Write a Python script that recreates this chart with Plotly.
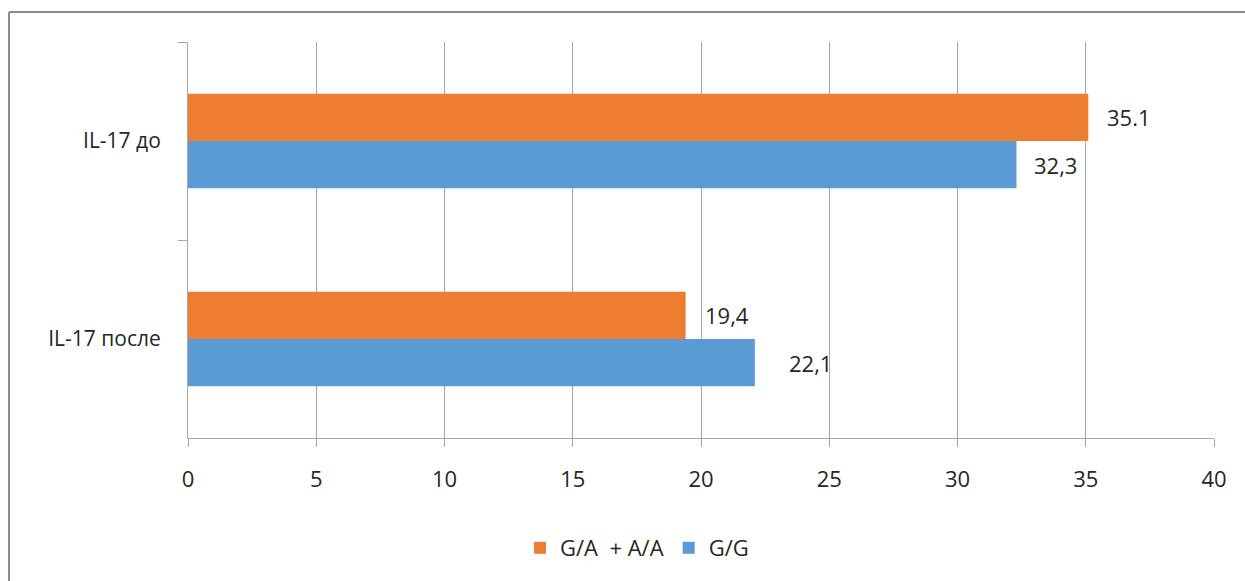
import plotly.graph_objects as go

# Categories (top to bottom) and series
categories = ["IL-17 до", "IL-17 после"]
series_names = ["G/A\u00a0\u00a0+ A/A", "G/G"]
series_labels = [
    ["35.1", "19,4"],   # G/A + A/A
    ["32,3", "22,1"],   # G/G
]
series_colors = ["#ED7D31", "#5B9BD5"]
x_ticks = [0, 5, 10, 15, 20, 25, 30, 35, 40]

# numeric values come straight from the printed labels
series_values = [[float(t.replace(",", ".")) for t in labels] for labels in series_labels]

# horizontal gap (px) between bar end and its label
label_gaps = [[17, 17], [16, 32]]

FONT = "Open Sans"
TEXT_COLOR = "#262626"
GRID = "#a6a6a6"

W, H = 1245, 581
ML, MR, MT, MB = 188, 31, 42, 143
plot_w = W - ML - MR
plot_h = H - MT - MB
BARGAP = 0.523

fig = go.Figure()
for name, vals, color in zip(series_names, series_values, series_colors):
    fig.add_trace(go.Bar(
        y=categories, x=vals, name=name, orientation="h",
        marker=dict(color=color, line=dict(width=0)),
        hoverinfo="x+y",
    ))

# value labels beside each bar: each bar sits a quarter of the group away from the band centre
band_px = plot_h / len(categories)
offset_px = band_px * (1 - BARGAP) / 4
for si, (labels, vals) in enumerate(zip(series_labels, series_values)):
    ys = offset_px if si == 0 else -offset_px
    for cat, lab, v, gap in zip(categories, labels, vals, label_gaps[si]):
        fig.add_annotation(
            x=v, y=cat, text=lab, showarrow=False,
            xanchor="left", yanchor="middle",
            xshift=gap, yshift=ys,
            font=dict(family=FONT, size=22, color=TEXT_COLOR),
        )

# outer frame (left and top edges)
fx0 = (9 - ML) / plot_w
fy1 = (H - MB - 12) / plot_h
fig.add_shape(type="line", xref="paper", yref="paper",
              x0=fx0, x1=fx0, y0=-0.5, y1=fy1,
              line=dict(color="#8c8c8c", width=2))
fig.add_shape(type="line", xref="paper", yref="paper",
              x0=fx0, x1=1.2, y0=fy1, y1=fy1,
              line=dict(color="#8c8c8c", width=2))

fig.update_layout(
    width=W, height=H,
    margin=dict(l=ML, r=MR, t=MT, b=MB, pad=0),
    paper_bgcolor="white", plot_bgcolor="white",
    barmode="group", bargap=BARGAP, bargroupgap=0,
    font=dict(family=FONT, color=TEXT_COLOR),
    showlegend=True,
    legend=dict(
        orientation="h", x=(637 - ML) / plot_w, xanchor="center",
        y=(H - MB - 548) / plot_h, yanchor="middle",
        font=dict(family=FONT, size=22, color=TEXT_COLOR),
        traceorder="normal",
    ),
    xaxis=dict(
        range=[0, 40], tickvals=x_ticks, ticktext=[str(t) for t in x_ticks],
        showgrid=True, gridcolor=GRID, gridwidth=1,
        showline=True, linecolor=GRID, linewidth=1,
        zeroline=False,
        ticks="outside", ticklen=8, tickcolor=GRID,
        tickfont=dict(family=FONT, size=22, color=TEXT_COLOR),
        ticklabelstandoff=14,
        fixedrange=True,
    ),
    yaxis=dict(
        type="category", categoryorder="array", categoryarray=categories,
        range=[1.5, -0.5],
        showgrid=False,
        showline=True, linecolor=GRID, linewidth=1,
        ticks="outside", ticklen=9, tickcolor=GRID, tickson="boundaries",
        tickfont=dict(family=FONT, size=21, color=TEXT_COLOR),
        ticklabelstandoff=22,
        fixedrange=True,
    ),
)

fig.write_html("out.html")
